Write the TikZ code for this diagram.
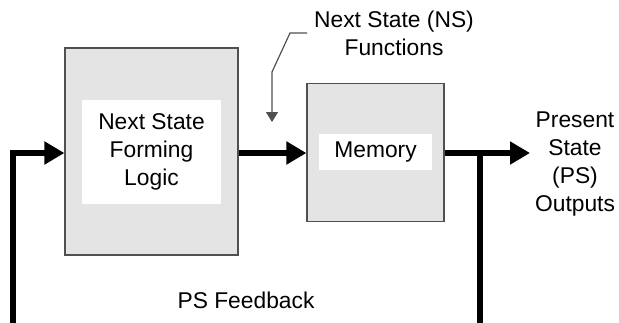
\documentclass[tikz,border=0pt]{standalone}
\usepackage{fontspec}
\setmainfont{Liberation Sans}
\usetikzlibrary{arrows.meta}

\definecolor{boxgray}{HTML}{E4E4E4}
\definecolor{edgegray}{HTML}{505050}

\tikzset{
  block/.style={draw=edgegray, fill=boxgray, line width=0.6pt, inner sep=0pt},
  label/.style={fill=white, inner sep=0pt, align=center},
  bus/.style={line width=2.6pt, -{Triangle[length=10pt, width=11pt]}},
  callout/.style={draw=edgegray, line width=0.6pt, -{Triangle[length=5pt, width=6pt]}}
}

\begin{document}
\begin{tikzpicture}[x=0.5pt, y=-0.5pt, font=\fontsize{11.4}{14}\selectfont]
  \useasboundingbox (0,0) rectangle (619,322);

		  % Nodes
		  \node[block, minimum width=86.5pt, minimum height=103.5pt] (nsl) at (151.5,151.5) {};
		  \node[label, minimum width=69.5pt, minimum height=52pt] (nsltext) at (151.5,152) {Next State\\Forming\\Logic};
		  \node[block, minimum width=68.5pt, minimum height=69pt] (mem) at (375.5,152.5) {};
		  \node[label, minimum width=56.5pt, minimum height=18pt] (memtext) at (375.5,152) {Memory};
		  \node[align=center] (ns) at (394,33) {Next State (NS)\\Functions};
		  \node[align=center] (ps) at (575,164) {Present\\State\\(PS)\\Outputs};
		  \node (fbtext) at (246,300) {PS Feedback};
		  \coordinate (in) at (13,323);
		  \coordinate (fb) at (480,323);
		  \coordinate (out) at (530,153);
		  \coordinate (nsstart) at (307,33);
		  \coordinate (nsbend) at (290,33);
		  \coordinate (nsknee) at (272,72);
		  \coordinate (nstip) at (272,122);

		  % Edges
		  \draw[bus] (in) |- (nsl.west |- out);
		  \draw[bus] (nsl.east |- out) -- (mem.west |- out);
		  \draw[bus] (mem.east |- out) -- (out);
		  \draw[line width=2.6pt] (fb) -- (fb |- out);
		  \draw[callout] (nsstart) -- (nsbend) -- (nsknee) -- (nstip);
\end{tikzpicture}
\end{document}
